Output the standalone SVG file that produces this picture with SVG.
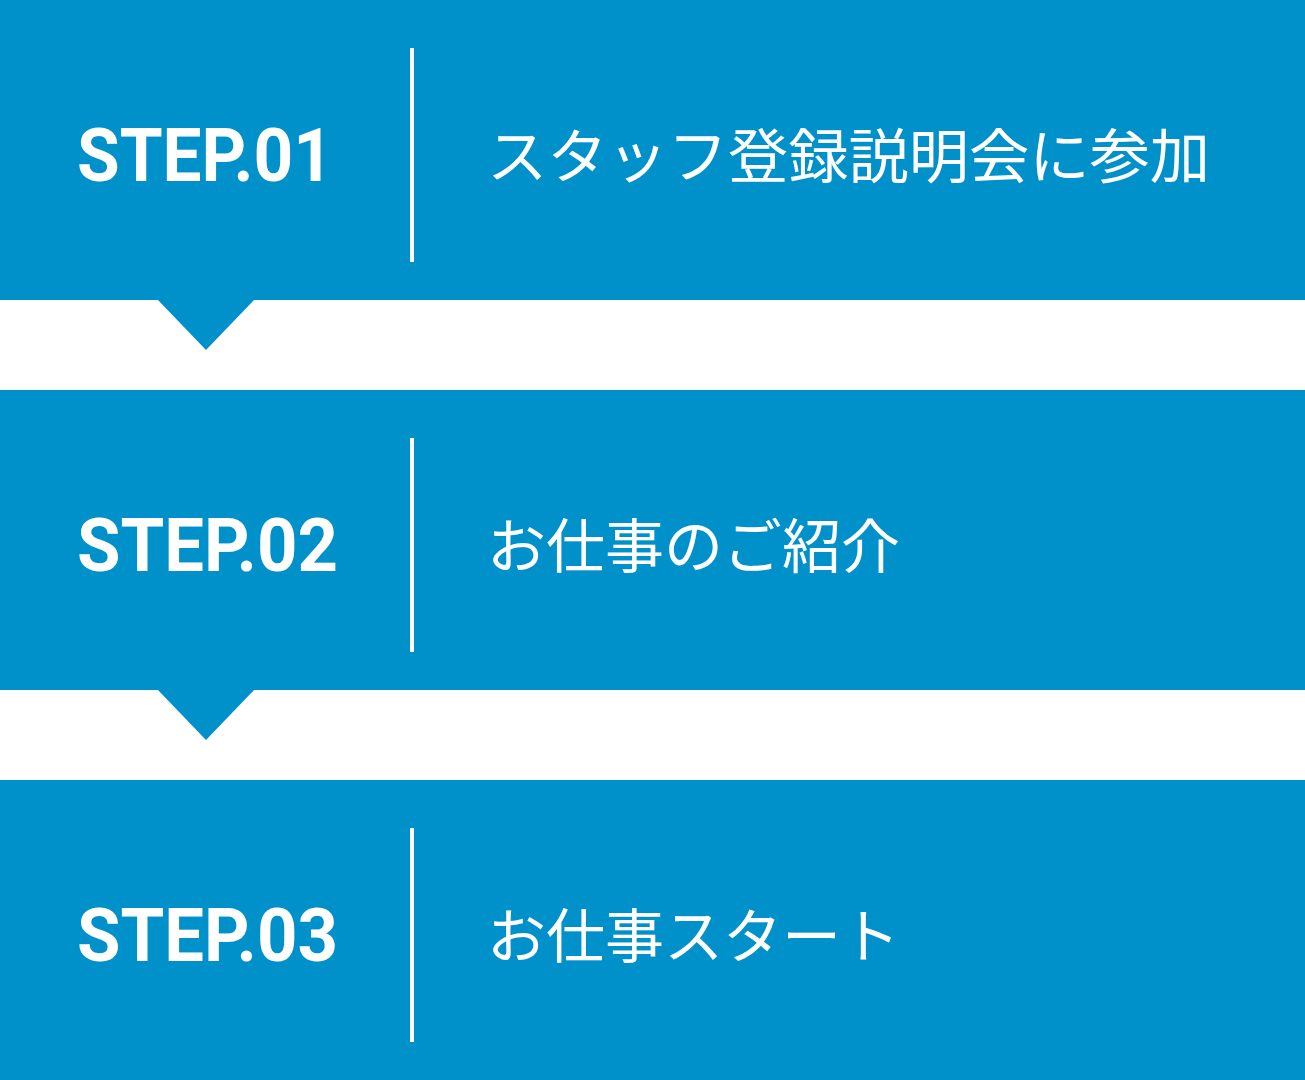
<svg xmlns="http://www.w3.org/2000/svg" width="1305" height="1080" viewBox="0 0 1305 1080">
<style>
.band{fill:#0091CB}
.sep{stroke:#fff;stroke-width:4}
.step{font-family:Roboto,"Liberation Sans",sans-serif;font-weight:bold;font-size:74px;fill:#fff}
.jp{font-family:"Noto Sans CJK JP",sans-serif;font-size:59px;fill:#fff}
</style>
<rect width="1305" height="1080" fill="#fff"/>
<g id="step1">
<rect class="band" x="0" y="0" width="1305" height="300"/>
<line class="sep" x1="412" y1="48" x2="412" y2="262"/>
<text class="step" x="77" y="181" textLength="256" lengthAdjust="spacingAndGlyphs">STEP.01</text>
<text class="jp" x="487" y="178" textLength="723" lengthAdjust="spacingAndGlyphs">スタッフ登録説明会に参加</text>
</g>
<g id="step2">
<rect class="band" x="0" y="390" width="1305" height="300"/>
<line class="sep" x1="412" y1="438" x2="412" y2="652"/>
<text class="step" x="77" y="571" textLength="261" lengthAdjust="spacingAndGlyphs">STEP.02</text>
<text class="jp" x="487" y="568">お仕事のご紹介</text>
</g>
<g id="step3">
<rect class="band" x="0" y="780" width="1305" height="300"/>
<line class="sep" x1="412" y1="828" x2="412" y2="1042"/>
<text class="step" x="77" y="961" textLength="261" lengthAdjust="spacingAndGlyphs">STEP.03</text>
<text class="jp" x="487" y="958">お仕事スタート</text>
</g>
<g id="connectors">
<polygon class="band" points="157,299 255,299 206,350"/>
<polygon class="band" points="157,689 255,689 206,740"/>
</g>
</svg>
